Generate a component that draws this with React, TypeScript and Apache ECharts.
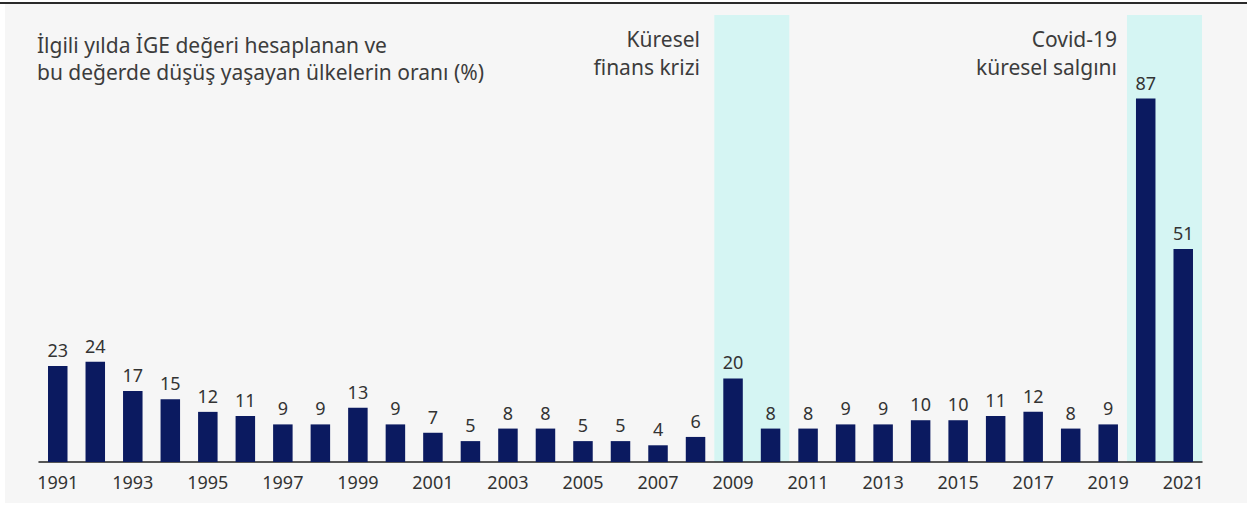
import React, { useEffect, useRef } from "react";
import * as echarts from "echarts";

const years = [
  "1991", "1992", "1993", "1994", "1995", "1996", "1997", "1998", "1999", "2000",
  "2001", "2002", "2003", "2004", "2005", "2006", "2007", "2008", "2009", "2010",
  "2011", "2012", "2013", "2014", "2015", "2016", "2017", "2018", "2019", "2020", "2021",
];
const shares = [
  23, 24, 17, 15, 12, 11, 9, 9, 13, 9,
  7, 5, 8, 8, 5, 5, 4, 6, 20, 8,
  8, 9, 9, 10, 10, 11, 12, 8, 9, 87, 51,
];
const crisisPeriods: [string, string][] = [
  ["2009", "2010"],
  ["2020", "2021"],
];
const titleLines = [
  "İlgili yılda İGE değeri hesaplanan ve",
  "bu değerde düşüş yaşayan ülkelerin oranı (%)",
];
const crisisLabels: string[][] = [
  ["Küresel", "finans krizi"],
  ["Covid-19", "küresel salgını"],
];

const FONT = "'Noto Sans', sans-serif";
const Y_MAX = 107;

export default function App() {
  const ref = useRef<HTMLDivElement>(null);
  useEffect(() => {
    document.body.style.margin = "0";
    const chart = echarts.init(ref.current!, null, { renderer: "svg" });
    const textEl = (id: string, text: string, x: number, y: number, align: string) => ({
      id,
      type: "text",
      silent: true,
      z: 20,
      style: {
        text,
        x,
        y,
        align,
        verticalAlign: "middle",
        font: `21px ${FONT}`,
        fill: "#3c3c3c",
      },
    });
    const baseGraphic: any[] = [
      {
        id: "bg",
        type: "rect",
        z: -10,
        silent: true,
        shape: { x: 5, y: 4, width: 1242, height: 499 },
        style: { fill: "#f6f6f6" },
      },
      {
        id: "topline",
        type: "line",
        z: 10,
        silent: true,
        shape: { x1: 0, y1: 3, x2: 1247, y2: 3 },
        style: { stroke: "#2a2a2a", lineWidth: 2 },
      },
      textEl("t1", titleLines[0], 37, 45, "left"),
      textEl("t2", titleLines[1], 37, 72, "left"),
      textEl("a1", crisisLabels[0][0], 700, 39, "right"),
      textEl("a2", crisisLabels[0][1], 700, 67, "right"),
      textEl("b1", crisisLabels[1][0], 1117, 39, "right"),
      textEl("b2", crisisLabels[1][1], 1117, 67, "right"),
    ];
    chart.setOption({
      animation: false,
      backgroundColor: "#ffffff",
      textStyle: { fontFamily: FONT },
      grid: { left: 39, top: 15, width: 1163, height: 447 },
      xAxis: {
        type: "category",
        data: years,
        axisTick: { show: false },
        axisLine: { lineStyle: { color: "#222", width: 1.5 } },
        axisLabel: {
          interval: 1,
          margin: 11,
          fontSize: 18,
          color: "#333",
          fontFamily: FONT,
        },
      },
      yAxis: {
        type: "value",
        min: 0,
        max: Y_MAX,
        show: false,
        splitLine: { show: false },
      },
      graphic: baseGraphic,
      series: [
        {
          type: "bar",
          data: shares,
          barWidth: 19.5,
          itemStyle: { color: "#0b1a60" },
          label: {
            show: true,
            position: "top",
            distance: 7,
            fontSize: 18,
            color: "#333",
            fontFamily: FONT,
          },
        },
      ],
    });
    const yTop = chart.convertToPixel({ yAxisIndex: 0 }, Y_MAX) as number;
    const yBot = chart.convertToPixel({ yAxisIndex: 0 }, 0) as number;
    const bands = crisisPeriods.map(([a, b], i) => {
      const xa = chart.convertToPixel({ xAxisIndex: 0 }, a) as number;
      const xb = chart.convertToPixel({ xAxisIndex: 0 }, b) as number;
      const w = (xb - xa) / (years.indexOf(b) - years.indexOf(a));
      return {
        id: "band" + i,
        type: "rect",
        z: -5,
        silent: true,
        shape: { x: xa - w / 2, y: yTop, width: xb - xa + w, height: yBot - yTop },
        style: { fill: "#d5f5f3" },
      };
    });
    chart.setOption({ graphic: [...baseGraphic, ...bands] });
    return () => chart.dispose();
  }, []);
  return (
    <div
      ref={ref}
      style={{ position: "absolute", left: 0, top: 0, width: 1250, height: 507 }}
    />
  );
}
